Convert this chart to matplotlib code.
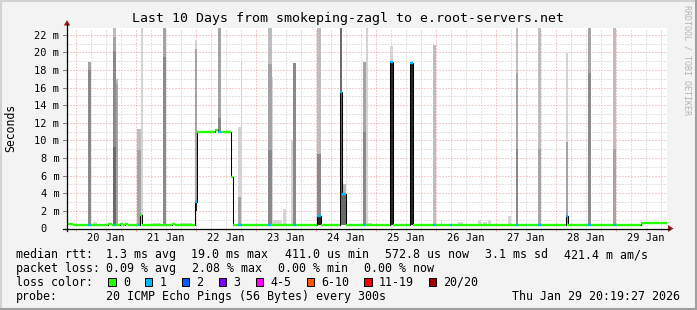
import matplotlib
matplotlib.use("Agg")
import matplotlib.pyplot as plt
import matplotlib.dates as mdates
from matplotlib.patches import Rectangle, Polygon
from matplotlib.lines import Line2D
from matplotlib.transforms import ScaledTranslation
from datetime import datetime, timedelta

plt.rcParams['font.family'] = ['DejaVu Sans Mono']

W, H = 697, 310
T0 = datetime(2026, 1, 19, 20, 19, 27)
T1 = datetime(2026, 1, 29, 20, 19, 27)
YMAX = 22.76  # ms, top of the graph

# median rtt (ms), step starts, and pings lost out of 20
med_time = ["01-19 20:19", "01-19 22:55", "01-20 04:48", "01-20 06:07", "01-20 13:02",
            "01-20 14:24", "01-20 14:48", "01-20 16:07", "01-20 17:43", "01-20 19:02",
            "01-20 19:43", "01-20 21:02", "01-21 00:48", "01-21 01:43", "01-21 02:38",
            "01-21 14:24", "01-21 15:43", "01-21 23:43", "01-22 00:38", "01-22 07:43",
            "01-22 08:48", "01-22 10:07", "01-22 14:00", "01-22 14:48", "01-22 17:02",
            "01-22 18:38", "01-23 05:02", "01-23 06:07", "01-23 14:55", "01-23 16:07",
            "01-24 00:38", "01-24 02:00", "01-24 09:43", "01-24 10:38", "01-24 12:07",
            "01-24 18:48", "01-24 20:07", "01-25 05:43", "01-25 06:48", "01-25 13:43",
            "01-25 14:48", "01-25 22:48", "01-26 00:00", "01-26 05:43", "01-26 06:38",
            "01-27 08:00", "01-27 08:48", "01-27 17:02", "01-27 18:07", "01-28 04:00",
            "01-28 04:55", "01-28 12:48", "01-28 14:07", "01-28 22:48", "01-29 00:07",
            "01-29 10:14"]
med_value = [0.55, 0.42, 0.42, 0.42, 0.52, 0.42, 0.42, 0.42, 0.52, 0.42,
             0.52, 0.42, 0.42, 1.5, 0.42, 0.52, 0.42, 3.0, 11.0, 11.2,
             11.0, 11.0, 5.8, 0.42, 0.42, 0.42, 0.42, 0.42, 0.42, 0.42,
             1.4, 0.42, 15.5, 3.9, 0.42, 0.42, 0.42, 18.9, 0.42, 18.8,
             0.42, 0.42, 0.42, 0.42, 0.42, 0.42, 0.42, 0.42, 0.42, 1.4,
             0.42, 0.42, 0.42, 0.42, 0.42, 0.62]
med_loss = [0, 0, 1, 0, 0, 0, 1, 0, 0, 0,
            0, 0, 1, 0, 0, 0, 0, 1, 0, 0,
            1, 0, 0, 0, 1, 0, 1, 0, 1, 0,
            1, 0, 1, 1, 0, 1, 0, 1, 0, 1,
            0, 1, 0, 1, 0, 1, 0, 1, 0, 1,
            0, 1, 0, 1, 0, 0]

# smoke columns: start, duration (min), lowest ping (ms), and (top ms, ping density) layers
smoke_time = ["01-19 20:19", "01-20 04:48", "01-20 07:02", "01-20 14:48", "01-20 16:07",
              "01-21 00:43", "01-21 01:43", "01-21 02:07", "01-21 06:55", "01-21 10:48",
              "01-21 17:43", "01-21 23:43", "01-22 09:02", "01-22 17:02", "01-22 18:00",
              "01-23 05:02", "01-23 06:24", "01-23 06:43", "01-23 10:48", "01-23 14:07",
              "01-23 14:48", "01-24 00:38", "01-24 09:43", "01-24 10:38", "01-24 18:48",
              "01-24 20:07", "01-24 21:07", "01-25 05:43", "01-25 13:43", "01-25 22:48",
              "01-26 02:07", "01-26 08:55", "01-26 16:55", "01-26 18:55", "01-26 20:55",
              "01-27 04:55", "01-27 08:00", "01-27 17:02", "01-28 04:00", "01-28 12:48",
              "01-28 22:48"]
smoke_minutes = [24, 80, 82, 80, 55, 84, 55, 41, 168, 80,
                 288, 55, 65, 58, 38, 82, 38, 221, 80, 41,
                 80, 82, 55, 89, 80, 48, 84, 65, 65, 80,
                 36, 120, 72, 96, 84, 65, 55, 65, 55, 80,
                 80]
smoke_floor = [0.4, 0.4, 0.4, 0.4, 0.4, 0.4, 0.4, 0.4, 0.4, 0.4,
               0.4, 2.0, 10.9, 0.4, 0.4, 0.4, 0.4, 0.4, 0.4, 0.4,
               0.4, 0.4, 0.4, 0.4, 0.4, 0.4, 0.4, 0.4, 0.4, 0.4,
               0.4, 0.4, 0.4, 0.4, 0.4, 0.4, 0.4, 0.4, 0.4, 0.4,
               0.4]
smoke_layers = [
    [(1.5, 2)],
    [(18.9, 3), (18.0, 4)],
    [(0.7, 1)],
    [(23, 2), (21.7, 3), (20.2, 4), (9.2, 5)],
    [(17.0, 2), (16.4, 3)],
    [(11.3, 2), (8.9, 3)],
    [(1.5, 5)],
    [(23, 1)],
    [(0.6, 1)],
    [(23, 3), (19.5, 4)],
    [(0.6, 1)],
    [(21.4, 1), (20.4, 3), (3.0, 6)],
    [(23, 3), (12.5, 4)],
    [(11.5, 1), (3.6, 3)],
    [(19.0, 1)],
    [(23, 2), (18.7, 3), (8.9, 4)],
    [(17.2, 1)],
    [(1.0, 1)],
    [(2.2, 1)],
    [(10.0, 1)],
    [(18.8, 4)],
    [(23, 2), (8.5, 4), (1.4, 6)],
    [(23, 5)],
    [(5.1, 2), (3.9, 5)],
    [(18.9, 3), (11.0, 4)],
    [(23, 1)],
    [(0.65, 1)],
    [(20.7, 1), (18.9, 6)],
    [(18.8, 6)],
    [(20.8, 2)],
    [(1.0, 1)],
    [(0.7, 1)],
    [(1.0, 1)],
    [(0.7, 1)],
    [(1.0, 1)],
    [(1.4, 1)],
    [(23, 2), (17.6, 3), (9.0, 4)],
    [(23, 2), (9.0, 3)],
    [(19.9, 1), (9.8, 3)],
    [(23, 3), (17.6, 4)],
    [(23, 2), (9.0, 3)],
]

loss_labels = ["0", "1", "2", "3", "4-5", "6-10", "11-19", "20/20"]
loss_colors = ["#26ff00", "#00b8ff", "#0059ff", "#7e00ff", "#ff00ff", "#ff5500", "#ff0000", "#a10000"]
loss_upper = [0, 1, 2, 3, 5, 10, 19, 20]

rtt_stats = ["1.3 ms avg", "19.0 ms max", "411.0 us min", "572.8 us now", "3.1 ms sd", "421.4 m am/s"]
loss_stats = ["0.09 % avg", "2.08 % max", "0.00 % min", "0.00 % now"]
probe_text = "20 ICMP Echo Pings (56 Bytes) every 300s"
title = "Last 10 Days from smokeping-zagl to e.root-servers.net"
stamp = "Thu Jan 29 20:19:27 2026"

density_color = {1: "#d4d4d4", 2: "#bdbdbd", 3: "#a4a4a4", 4: "#8a8a8a", 5: "#6a6a6a", 6: "#262626"}


def ts(s):
    return datetime.strptime("2026-" + s, "%Y-%m-%d %H:%M")


def fx(x):
    return x / W


def fy(y):
    return 1 - y / H


def loss_color(n):
    for up, c in zip(loss_upper, loss_colors):
        if n <= up:
            return c
    return loss_colors[-1]


BG = "#f3f3f3"
fig = plt.figure(figsize=(W / 100, H / 100), dpi=100, facecolor=BG)
ax = fig.add_axes([fx(66.5), fy(228.5), 600 / W, 200.5 / H])
ax.set_facecolor("white")
ax.set_xlim(T0, T1)
ax.set_ylim(0, YMAX)
for s in ax.spines.values():
    s.set_visible(False)

# grid
RED = "#ec9a9a"
GRAY = "#c6c6c6"
day0 = datetime(2026, 1, 20)
k = 0
while day0 + timedelta(hours=6 * k) < T1:
    t = day0 + timedelta(hours=6 * k)
    ax.axvline(t, color=RED if k % 4 == 0 else GRAY, lw=0.72, ls=(0, (1, 2)), zorder=0.5)
    ax.vlines(t, -0.012 * YMAX, 0, color=RED if k % 4 == 0 else GRAY, lw=0.72, clip_on=False)
    k += 1
for v in range(1, 23):
    ax.axhline(v, color=RED if v % 2 == 0 else GRAY, lw=0.72, ls=(0, (1, 2)), zorder=0.5)

# smoke
for t, m, fl, layers in zip(smoke_time, smoke_minutes, smoke_floor, smoke_layers):
    for top, d in layers:
        ax.bar(ts(t), min(top, YMAX) - fl, width=timedelta(minutes=m), bottom=fl,
               align="edge", color=density_color[d], lw=0, zorder=1, antialiased=False)

# median line and loss colour band
mt = [ts(s) for s in med_time] + [T1]
ax.plot(mt, med_value + [med_value[-1]], drawstyle="steps-post", color="black", lw=0.75, zorder=3)
ax.hlines(med_value, mt[:-1], mt[1:], colors=[loss_color(n) for n in med_loss],
          lw=1.7, zorder=4, capstyle="butt")

# x ticks at noon
noons = [datetime(2026, 1, d, 12) for d in range(20, 30)]
ax.set_xticks(noons)
ax.xaxis.set_major_formatter(mdates.DateFormatter("%d %b"))
ax.tick_params(axis="x", length=0, pad=3, labelsize=7.5)
ax.set_yticks([])

# y labels
ytr = ax.get_yaxis_transform()
for v in range(0, 23, 2):
    shift = -7 if v else -7 - 2 * 6.27
    off = ScaledTranslation(shift / 100, 0, fig.dpi_scale_trans)
    ax.text(0, v, f"{v} m" if v else "0", transform=ytr + off, ha="right", va="center_baseline",
            size=7.5)
    ax.plot([-4 / 600, 0], [v, v], transform=ytr, color="#808080", lw=0.72, clip_on=False)

# axes with arrows
fig.add_artist(Line2D([fx(63), fx(669)], [fy(228.5)] * 2, transform=fig.transFigure, color="black", lw=0.9))
fig.add_artist(Line2D([fx(67)] * 2, [fy(231), fy(24)], transform=fig.transFigure, color="black", lw=0.9))
fig.add_artist(Polygon([(fx(668), fy(225)), (fx(668), fy(232)), (fx(673.5), fy(228.5))],
                       closed=True, transform=fig.transFigure, color="#9a1a1a", lw=0))
fig.add_artist(Polygon([(fx(63.8), fy(25.5)), (fx(70.2), fy(25.5)), (fx(67), fy(20))],
                       closed=True, transform=fig.transFigure, color="#9a1a1a", lw=0))

# texts
fig.text(fx(348), fy(18.5), title, ha="center", va="center", size=9.5)
fig.text(fx(10.5), fy(128), "Seconds", rotation=90, ha="center", va="center", size=8.3)
fig.text(fx(687.5), fy(5), "RRDTOOL / TOBI OETIKER", rotation=270, ha="center", va="top",
         size=6, color="#b4b4b4")

CW = 6.97
X0 = 15.5
LS = 8.35


def line(y, head, parts, xs):
    fig.text(fx(X0), fy(y), head, ha="left", va="center", size=LS)
    for p, x in zip(parts, xs):
        fig.text(fx(x), fy(y), p, ha="left", va="center", size=LS)


line(254.5, "median rtt:", rtt_stats, [106, 191.5, 285, 385, 485, 564.5])
line(268.5, "packet loss:", loss_stats, [106, 192, 278.5, 364.5])
line(296.3, "probe:", [probe_text], [106])
fig.text(fx(680.5), fy(296.3), stamp, ha="right", va="center", size=LS)
fig.text(fx(X0), fy(282.3), "loss color:", ha="left", va="center", size=LS)
bx = 108.3
for lab, c in zip(loss_labels, loss_colors):
    fig.add_artist(Rectangle((fx(bx), fy(285.5)), 7.3 / W, 8 / H, transform=fig.transFigure,
                             facecolor=c, edgecolor="black", lw=0.72))
    fig.text(fx(bx + 14.5), fy(282.3), lab, ha="left", va="center", size=LS)
    bx += 29.9 + CW * len(lab)

# frame
fig.add_artist(Line2D([0, 1], [fy(1), fy(1)], transform=fig.transFigure, color="#d2d2d2", lw=1.5))
fig.add_artist(Line2D([fx(1), fx(1)], [0, 1], transform=fig.transFigure, color="#d2d2d2", lw=1.5))
fig.add_artist(Line2D([0, 1], [fy(309), fy(309)], transform=fig.transFigure, color="#a0a0a0", lw=1.5))
fig.add_artist(Line2D([fx(696), fx(696)], [0, 1], transform=fig.transFigure, color="#a0a0a0", lw=1.5))

fig.savefig("out.png", dpi=100, facecolor=BG)
